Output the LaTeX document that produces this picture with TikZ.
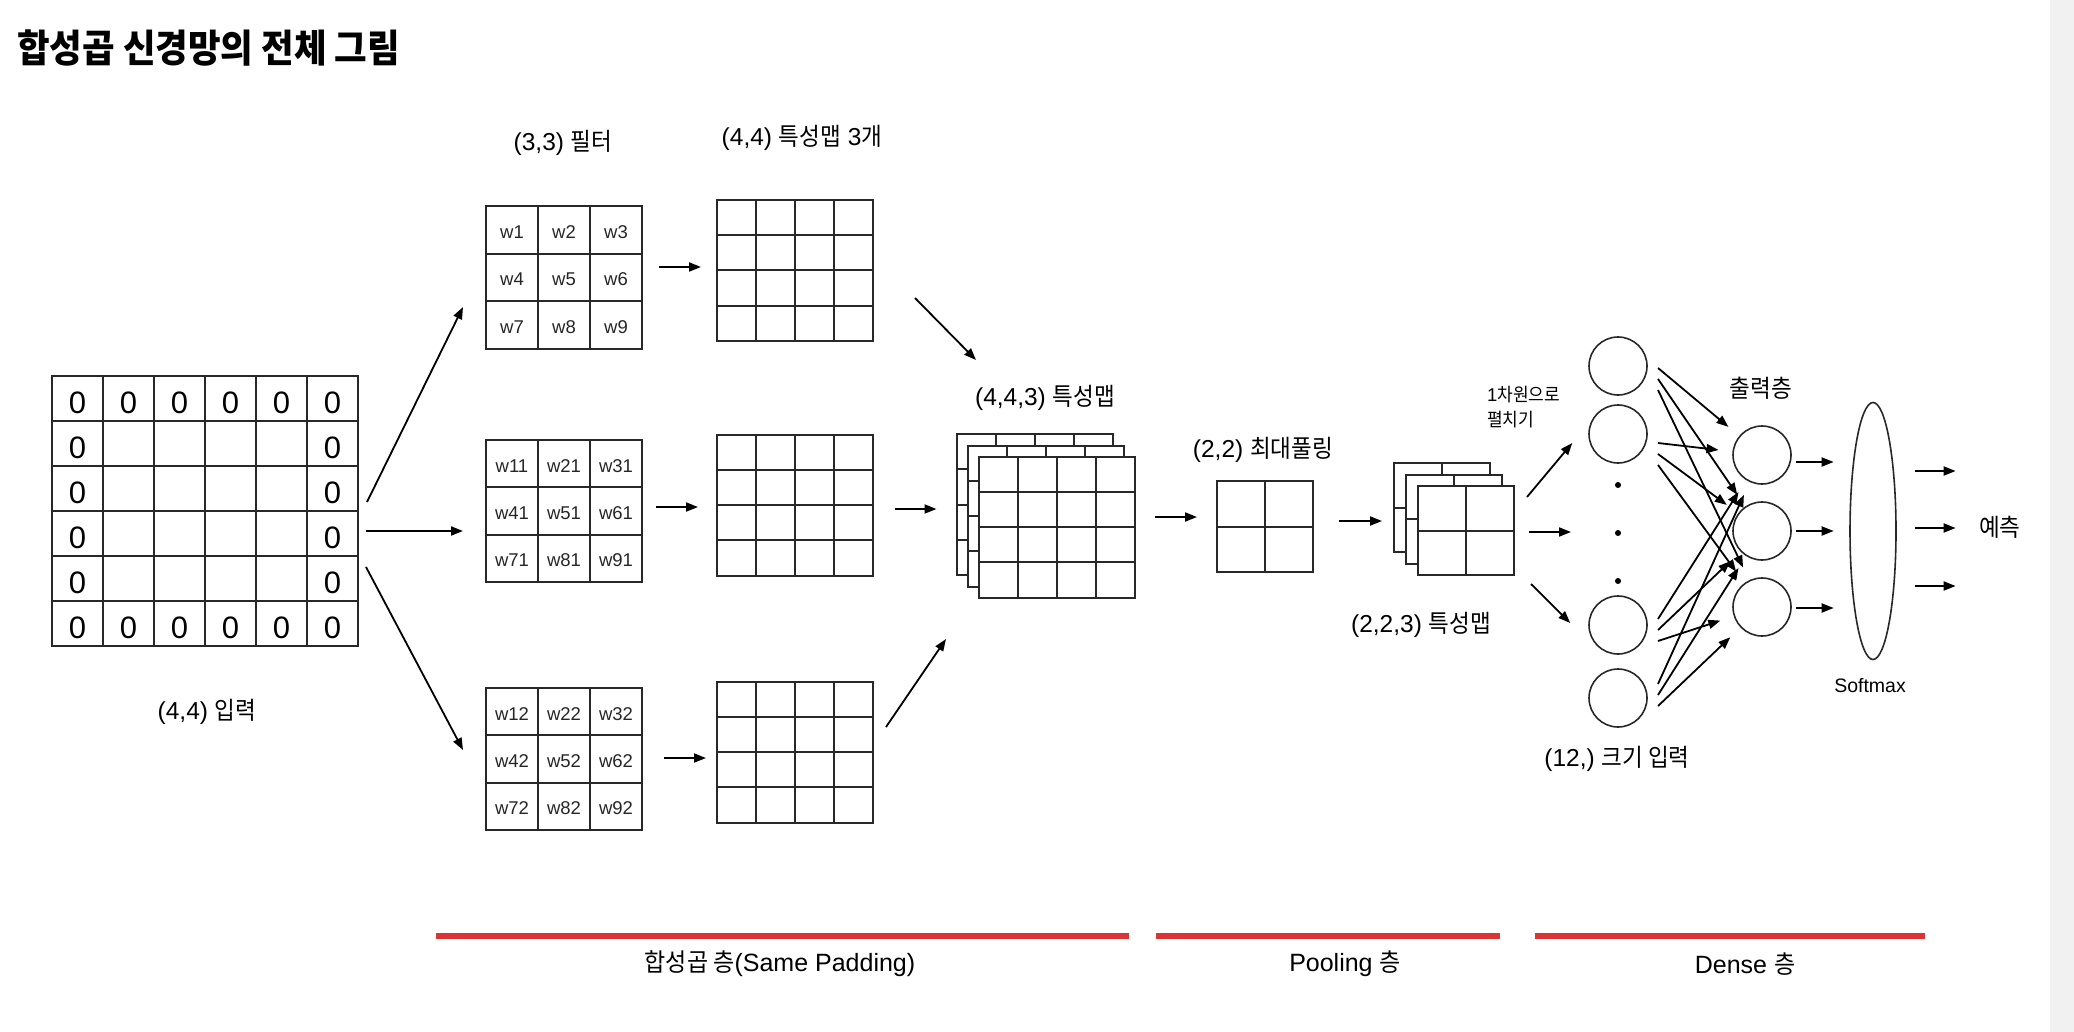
\documentclass[tikz,border=0pt]{standalone}
\usepackage{fontspec}
\setmainfont{Liberation Sans}
\newfontfamily\kr[FakeStretch=0.92]{Noto Sans CJK KR}
\usetikzlibrary{arrows.meta,calc,shapes.geometric}
\definecolor{linec}{RGB}{40,40,40}
\definecolor{barred}{RGB}{218,52,52}
\definecolor{stripgray}{RGB}{241,241,241}
\newcommand\ko[1]{{\kr #1}}
\newcommand\mygrid[3]{%
  \pgfmathtruncatemacro\mygc{#2-1}\pgfmathtruncatemacro\mygr{#3-1}%
  \foreach \k in {1,...,\mygc}{\draw[gridline] ($(#1.north west)!\k/#2!(#1.north east)$) -- ($(#1.south west)!\k/#2!(#1.south east)$);}%
  \foreach \k in {1,...,\mygr}{\draw[gridline] ($(#1.north west)!\k/#3!(#1.south west)$) -- ($(#1.north east)!\k/#3!(#1.south east)$);}%
}
\newcommand\wlabels[2]{%
  \foreach \t [count=\n from 0] in {#2}{%
    \pgfmathtruncatemacro\mycc{mod(\n,3)}\pgfmathtruncatemacro\myrr{div(\n,3)}%
    \node[wl] (#1t\n) at ($(#1.north west)+({(\mycc+0.5)*52},{(\myrr+0.5)*47.3+2})$) {\t};}%
}
\tikzset{
  cell/.style={draw=linec, line width=2pt, fill=white, inner sep=0pt, outer sep=0pt},
  gridline/.style={draw=linec, line width=2pt},
  arr/.style={-{Triangle[length=12pt,width=9pt]}, line width=1.8pt, draw=black},
  lbl/.style={font=\fontsize{24.5}{28}\selectfont, inner sep=0pt},
  wl/.style={font=\fontsize{18.5}{20}\selectfont, inner sep=0pt, text=black!85},
  zero/.style={font=\fontsize{31}{34}\selectfont, inner sep=0pt},
  neuron/.style={circle, draw=linec, line width=1.6pt, minimum size=58pt, inner sep=0pt},
  dotn/.style={circle, fill=black, minimum size=6pt, inner sep=0pt},
  fmap/.style={cell, minimum width=156pt, minimum height=141pt},
  filt/.style={cell, minimum width=156pt, minimum height=142pt},
  smallmap/.style={cell, minimum width=96pt, minimum height=89pt},
}
\begin{document}
\begin{tikzpicture}[x=1pt,y=-1pt]
\fill[white] (0,0) rectangle (2074,1032);
\useasboundingbox (0,0) rectangle (2074,1032);
\fill[stripgray] (2050,0) rectangle (2074,1032);

% title
\node[anchor=west, inner sep=0pt, font=\kr\bfseries\fontsize{38.5}{42}\selectfont] (title) at (17,48) {합성곱 신경망의 전체 그림};

% input
\node[cell, minimum width=306pt, minimum height=270pt] (in) at (205,511) {};
\mygrid{in}{6}{6}
\foreach \c in {1,...,6}{
  \node[zero] (zt\c) at ($(in.north west)+({(\c-0.5)*51},26.5)$) {0};
  \node[zero] (zb\c) at ($(in.north west)+({(\c-0.5)*51},251.5)$) {0};
}
\foreach \r in {2,...,5}{
  \node[zero] (zl\r) at ($(in.north west)+(25.5,{(\r-0.5)*45+4})$) {0};
  \node[zero] (zr\r) at ($(in.north west)+(280.5,{(\r-0.5)*45+4})$) {0};
}
\node[lbl] (inlbl) at (207,712) {(4,4) \ko{입력}};

% filters
\node[filt] (f1) at (564,277.5) {};
\node[filt] (f2) at (564,511) {};
\node[filt] (f3) at (564,759) {};
\mygrid{f1}{3}{3}\mygrid{f2}{3}{3}\mygrid{f3}{3}{3}
\wlabels{f1}{w1,w2,w3,w4,w5,w6,w7,w8,w9}
\wlabels{f2}{w11,w21,w31,w41,w51,w61,w71,w81,w91}
\wlabels{f3}{w12,w22,w32,w42,w52,w62,w72,w82,w92}
\node[lbl] (flbl) at (563,143) {(3,3) \ko{필터}};

% feature maps
\node[fmap] (m1) at (795,270.5) {};
\node[fmap] (m2) at (795,505) {};
\node[fmap] (m3) at (795,752) {};
\mygrid{m1}{4}{4}\mygrid{m2}{4}{4}\mygrid{m3}{4}{4}
\node[lbl] (mlbl) at (802,138) {(4,4) \ko{특성맵} 3\ko{개}};

% stacked feature maps
\node[fmap] (s1) at (1034.5,504.5) {};\mygrid{s1}{4}{4}
\node[fmap] (s2) at (1046,516) {};\mygrid{s2}{4}{4}
\node[fmap] (s3) at (1057,527) {};\mygrid{s3}{4}{4}
\node[lbl] (slbl) at (1045,398) {(4,4,3) \ko{특성맵}};

% pooling
\node[cell, minimum width=96pt, minimum height=91pt] (p) at (1265,526.5) {};
\mygrid{p}{2}{2}
\node[lbl] (plbl) at (1263,450) {(2,2) \ko{최대풀링}};

% small stack
\node[smallmap] (q1) at (1442,507.5) {};\mygrid{q1}{2}{2}
\node[smallmap] (q2) at (1454,519) {};\mygrid{q2}{2}{2}
\node[smallmap] (q3) at (1466,530.5) {};\mygrid{q3}{2}{2}
\node[lbl] (qlbl) at (1421,625) {(2,2,3) \ko{특성맵}};
\node[anchor=west, align=left, inner sep=0pt, font=\fontsize{18.5}{25}\selectfont] (flat) at (1487,407) {1\ko{차원으로}\\\ko{펼치기}};

% dense
\node[neuron] (i1) at (1618,366) {};
\node[neuron] (i2) at (1618,434) {};
\node[neuron] (i3) at (1618,625) {};
\node[neuron] (i4) at (1618,698) {};
\node[dotn] (d1) at (1618,485) {};
\node[dotn] (d2) at (1618,533) {};
\node[dotn] (d3) at (1618,581) {};
\node[neuron] (o1) at (1762,455) {};
\node[neuron] (o2) at (1762,531) {};
\node[neuron] (o3) at (1762,607) {};
\node[lbl] (olbl) at (1761,388) {\ko{출력층}};
\node[lbl] (ilbl) at (1617,759) {(12,) \ko{크기 입력}};
\node[draw=linec, line width=1.6pt, ellipse, minimum width=46pt, minimum height=257pt, inner sep=0pt] (sm) at (1873,531) {};
\node[inner sep=0pt, font=\fontsize{19.5}{22}\selectfont] (smlbl) at (1870,686) {Softmax};
\node[anchor=west, inner sep=0pt, font=\fontsize{24.5}{28}\selectfont] (pred) at (1979,527) {\ko{예측}};

% arrows: input -> filters
\draw[arr] ($(in.east)+(9,-9)$) -- ($(f1.west)+(-23,29.5)$);
\draw[arr] ($(in.east)+(8,20)$) -- ($(f2.west)+(-23,20)$);
\draw[arr] ($(in.east)+(8,56)$) -- ($(f3.west)+(-23,-9)$);
% filters -> maps
\draw[arr] ($(f1.east)+(17,-10.5)$) -- ($(m1.west)+(-16,-3.5)$);
\draw[arr] ($(f2.east)+(14,-4)$) -- ($(m2.west)+(-19,2)$);
\draw[arr] ($(f3.east)+(22,-1)$) -- ($(m3.west)+(-11,6)$);
% maps -> stack
\draw[arr] ($(m1.east)+(42,27.5)$) -- ($(s1.north)+(-58.5,-74)$);
\draw[arr] ($(m2.east)+(22,4)$) -- ($(s1.west)+(-20,4.5)$);
\draw[arr] ($(m3.east)+(13,-25)$) -- ($(s1.south)+(-88.5,64)$);
% stack -> pool -> small stack
\draw[arr] ($(s3.east)+(20,-10)$) -- ($(p.west)+(-20,-9.5)$);
\draw[arr] ($(p.east)+(26,-5.5)$) -- ($(q1.west)+(-12,13.5)$);
% flatten
\draw[arr] ($(q3.east)+(13,-33.5)$) -- ($(i2.west)+(-16,9)$);
\draw[arr] ($(q3.east)+(15,1.5)$) -- ($(d2)+(-47,-1)$);
\draw[arr] ($(q3.east)+(17,53.5)$) -- ($(i3.west)+(-18,-2)$);
% dense connections
\foreach \i/\dy in {1/13,2/20,3/5,4/-3}{
  \foreach \j in {1,2,3}{
    \draw[arr, shorten >=14pt] ($(i\i)+(40,{\dy+(\j-2)*11})$) -- (o\j);
  }
}
% outputs -> softmax
\draw[arr] ($(o1.east)+(4,7)$) -- ($(sm.west)+(-15.5,-69)$);
\draw[arr] ($(o2.east)+(4,0)$) -- ($(sm.west)+(-15.5,0)$);
\draw[arr] ($(o3.east)+(4,1)$) -- ($(sm.west)+(-15.5,77)$);
% softmax -> prediction
\draw[arr] ($(sm.east)+(18.5,-60)$) -- ($(pred.west)+(-23.4,-56)$);
\draw[arr] ($(sm.east)+(18.5,-3)$) -- ($(pred.west)+(-23.4,1)$);
\draw[arr] ($(sm.east)+(18.5,55)$) -- ($(pred.west)+(-23.4,59)$);

% bottom bars
\draw[barred, line width=6.5pt] (436,936) -- (1129,936);
\draw[barred, line width=6.5pt] (1156,936) -- (1500,936);
\draw[barred, line width=6.5pt] (1535,936) -- (1925,936);
\node[inner sep=0pt, font=\fontsize{25}{28}\selectfont] (b1) at (780,964) {\ko{합성곱 층}(Same Padding)};
\node[inner sep=0pt, font=\fontsize{25}{28}\selectfont] (b2) at (1345,964) {Pooling \ko{층}};
\node[inner sep=0pt, font=\fontsize{25}{28}\selectfont] (b3) at (1745,964) {Dense \ko{층}};
\end{tikzpicture}
\end{document}
